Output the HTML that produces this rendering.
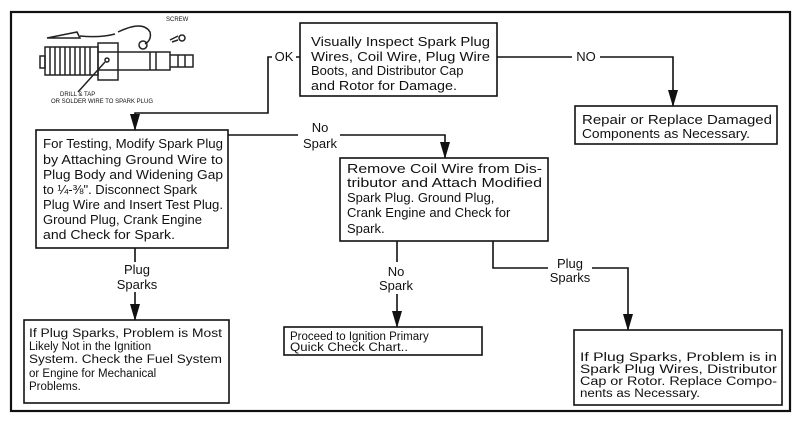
<!DOCTYPE html>
<html><head><meta charset="utf-8"><style>
html,body{margin:0;padding:0;background:#fff;}
svg{display:block}
text{font-family:"Liberation Sans",sans-serif;fill:#111;}
.t{font-size:13px}
.s{font-size:11.5px}
</style></head><body>
<svg width="803" height="425" viewBox="0 0 803 425" xmlns="http://www.w3.org/2000/svg">
<defs><marker id="a" markerWidth="17" markerHeight="10" refX="16" refY="5" orient="auto" markerUnits="userSpaceOnUse"><path d="M0,0 L17,5 L0,10 Z" fill="#111"/></marker></defs>
<rect x="11" y="12" width="779" height="399" fill="none" stroke="#111" stroke-width="2.2"/>
<g stroke="#222" fill="none" stroke-width="1.5">
<rect x="45" y="47" width="53" height="28"/>
<path d="M50,47 v28 M55,47 v28 M60,47 v28 M65,47 v28 M70,47 v28 M75,47 v28 M80,47 v28 M85,47 v28 M90,47 v28"/>
<rect x="40" y="56" width="5" height="12"/>
<path d="M98,43 h20 v37 h-20 z M98,52 h20 M98,70 h20"/>
<path d="M118,52 h52 v18 h-52"/>
<path d="M150,52 v18 M156,52 v18"/>
<path d="M170,55 h23 v12 h-23 M178,55 v12 M185,55 v12"/>
<path d="M47,38 l30,-6 l3,6 z"/>
<path d="M80,36 q20,2 35,-2 M118,32 q25,-12 32,0 q2,8 -5,12"/>
<circle cx="143" cy="45" r="4"/>
<path d="M170,40 l8,-4 M172,42 l6,-2"/>
<circle cx="182" cy="38" r="3"/>
<circle cx="107" cy="60" r="2"/>
<path d="M105,62 L78,92"/>
</g>
<text x="166" y="21" style="font-size:6px">SCREW</text>
<text x="60" y="96" style="font-size:6px">DRILL &amp; TAP</text>
<text x="51" y="103" style="font-size:6px">OR SOLDER WIRE TO SPARK PLUG</text>

<g fill="none" stroke="#111" stroke-width="1.6">
<rect x="300" y="23" width="197" height="73"/>
<rect x="575" y="106" width="202" height="38"/>
<rect x="36" y="130" width="192" height="118"/>
<rect x="340" y="158" width="208" height="83"/>
<rect x="24" y="320" width="205" height="83"/>
<rect x="284" y="327" width="198" height="28"/>
<rect x="574" y="330" width="208" height="75"/>
<path d="M300,57 H296 M272,57 H268 V113 H135 V130" marker-end="url(#a)"/>
<path d="M497,57 H572 M600,57 H673 V106" marker-end="url(#a)"/>
<path d="M228,135 H298 M340,135 H445 V158" marker-end="url(#a)"/>
<path d="M135,248 V262 M135,292 V320" marker-end="url(#a)"/>
<path d="M397,241 V262 M397,294 V327" marker-end="url(#a)"/>
<path d="M493,241 V268 H548 M592,268 H628 V330" marker-end="url(#a)"/>
</g>
<text class="t" x="284" y="61" text-anchor="middle">OK</text>
<text class="t" x="586" y="61" text-anchor="middle">NO</text>
<text class="t" x="320" y="132" text-anchor="middle">No</text>
<text class="t" x="320" y="148" text-anchor="middle">Spark</text>
<text class="t" x="137" y="274" text-anchor="middle">Plug</text>
<text class="t" x="137" y="289" text-anchor="middle">Sparks</text>
<text class="t" x="396" y="276" text-anchor="middle">No</text>
<text class="t" x="396" y="290" text-anchor="middle">Spark</text>
<text class="t" x="570" y="268" text-anchor="middle">Plug</text>
<text class="t" x="570" y="282" text-anchor="middle">Sparks</text>

<g class="t">
<text x="311" y="46" textLength="179" lengthAdjust="spacingAndGlyphs">Visually Inspect Spark Plug</text>
<text x="311" y="61" textLength="179" lengthAdjust="spacingAndGlyphs">Wires, Coil Wire, Plug Wire</text>
<text x="311" y="75">Boots, and Distributor Cap</text>
<text x="311" y="90" textLength="146" lengthAdjust="spacingAndGlyphs">and Rotor for Damage.</text>

<text x="582" y="124" textLength="190" lengthAdjust="spacingAndGlyphs">Repair or Replace Damaged</text>
<text x="582" y="138" textLength="168" lengthAdjust="spacingAndGlyphs">Components as Necessary.</text>

<text x="43" y="148" textLength="180" lengthAdjust="spacingAndGlyphs">For Testing, Modify Spark Plug</text>
<text x="43" y="164" textLength="180" lengthAdjust="spacingAndGlyphs">by Attaching Ground Wire to</text>
<text x="43" y="179" textLength="180" lengthAdjust="spacingAndGlyphs">Plug Body and Widening Gap</text>
<text x="43" y="194">to ¼-⅜". Disconnect Spark</text>
<text x="43" y="209" textLength="180" lengthAdjust="spacingAndGlyphs">Plug Wire and Insert Test Plug.</text>
<text x="43" y="224">Ground Plug, Crank Engine</text>
<text x="43" y="239" textLength="132" lengthAdjust="spacingAndGlyphs">and Check for Spark.</text>

<text x="347" y="173" textLength="195" lengthAdjust="spacingAndGlyphs">Remove Coil Wire from Dis-</text>
<text x="347" y="187" textLength="195" lengthAdjust="spacingAndGlyphs">tributor and Attach Modified</text>
<text x="347" y="202">Spark Plug. Ground Plug,</text>
<text x="347" y="217">Crank Engine and Check for</text>
<text x="347" y="233">Spark.</text>
</g>
<g class="s">
<text x="29" y="337" textLength="193" lengthAdjust="spacingAndGlyphs">If Plug Sparks, Problem is Most</text>
<text x="29" y="350">Likely Not in the Ignition</text>
<text x="29" y="363" textLength="193" lengthAdjust="spacingAndGlyphs">System. Check the Fuel System</text>
<text x="29" y="377">or Engine for Mechanical</text>
<text x="29" y="390">Problems.</text>

<text x="290" y="340">Proceed to Ignition Primary</text>
<text x="290" y="351" textLength="118" lengthAdjust="spacingAndGlyphs">Quick Check Chart..</text>

<text x="580" y="361" textLength="197" lengthAdjust="spacingAndGlyphs">If Plug Sparks, Problem is in</text>
<text x="580" y="373" textLength="197" lengthAdjust="spacingAndGlyphs">Spark Plug Wires, Distributor</text>
<text x="580" y="385" textLength="197" lengthAdjust="spacingAndGlyphs">Cap or Rotor. Replace Compo-</text>
<text x="580" y="397" textLength="120" lengthAdjust="spacingAndGlyphs">nents as Necessary.</text>
</g>
</svg>
</body></html>
